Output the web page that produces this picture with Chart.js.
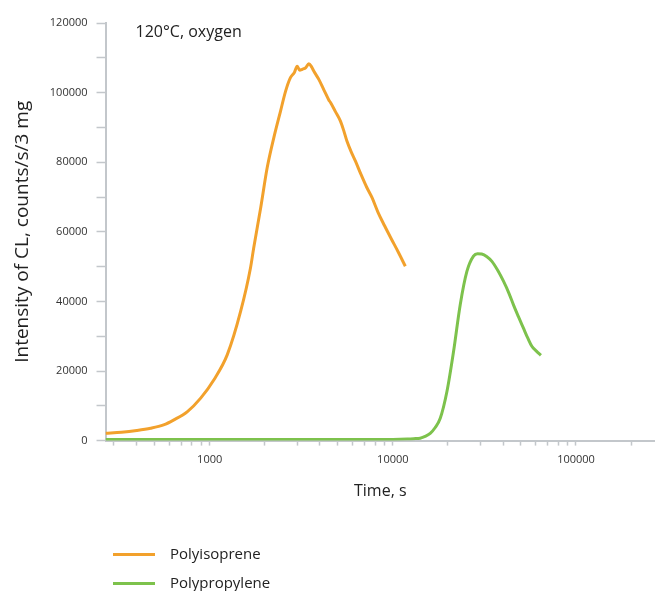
<!DOCTYPE html>
<html>
<head>
<meta charset="utf-8">
<script src="https://cdn.jsdelivr.net/npm/chart.js@4"></script>
<style>
  html, body { margin: 0; padding: 0; background: #fff; }
  #wrap { position: relative; width: 655px; height: 591px; }
  #legend { position: absolute; left: 113px; top: 539px; font-family: "Open Sans", sans-serif; font-size: 15px; color: #222; }
  #legend div { height: 29px; line-height: 29px; white-space: nowrap; }
  #legend span { display: inline-block; width: 42px; height: 3px; vertical-align: middle; margin-right: 15px; }
</style>
</head>
<body>
<div id="wrap">
  <canvas id="chart"></canvas>
  <div id="legend"></div>
</div>
<script>
// Polyisoprene, 120 C oxygen (time in s, CL intensity)
const isoTime = [270, 330, 400, 476, 560, 638, 756, 893, 1055, 1248, 1475, 1670, 1738, 1900, 2060, 2250, 2437, 2600, 2760, 2900, 3006, 3100, 3200, 3350, 3477, 3600, 3700, 3943, 4200, 4470, 4560, 4850, 5175, 5400, 5620, 5900, 6250, 6700, 7200, 7700, 8300, 9000, 9800, 10700, 11700];
const isoValues = [2100, 2400, 2900, 3540, 4500, 5950, 8350, 12200, 17500, 24700, 37100, 49600, 55300, 67000, 78400, 87500, 94700, 100500, 104300, 105800, 107600, 106400, 106700, 107200, 108300, 107400, 106200, 103800, 100800, 97900, 97200, 94600, 91800, 89000, 86000, 83200, 80300, 76500, 72800, 69800, 65600, 61800, 58000, 54200, 50100];

// Polypropylene
const ppTime = [270, 500, 1000, 2000, 5000, 10000, 12000, 13000, 14100, 15000, 16000, 17000, 18150, 19740, 21450, 23320, 25370, 27560, 29000, 30560, 32500, 34740, 37500, 40180, 43000, 45560, 48500, 51650, 54500, 57400, 60800, 64300];
const ppValues = [300, 300, 300, 300, 300, 350, 450, 550, 700, 1200, 2100, 3700, 6400, 14100, 25600, 39000, 48600, 53000, 53700, 53600, 52900, 51500, 48800, 45800, 42400, 39000, 35600, 32300, 29500, 27100, 25700, 24500];

const xTickValues = [300, 400, 500, 600, 700, 800, 900, 1000, 2000, 3000, 4000, 5000, 6000, 7000, 8000, 9000, 10000, 20000, 30000, 40000, 50000, 60000, 70000, 80000, 90000, 100000, 200000];
const xTickLabels = [1000, 10000, 100000];
const yTickLabels = [0, 20000, 40000, 60000, 80000, 100000, 120000];

const seriesNames = ['Polyisoprene', 'Polypropylene'];
const seriesColors = ['#F2A12C', '#7DC24C'];

const axisGrey = '#c3c7cb';
const fontFamily = '"Open Sans", sans-serif';

const noteText = {
  id: 'noteText',
  afterDraw(chart) {
    const ctx = chart.ctx;
    ctx.save();
    ctx.font = '16px ' + fontFamily;
    ctx.fillStyle = '#222';
    ctx.textBaseline = 'middle';
    ctx.fillText('120°C, oxygen', chart.chartArea.left + 30, 32);
    ctx.restore();
  }
};

const ctx = document.getElementById('chart').getContext('2d');
const chart = new Chart(ctx, {
  type: 'line',
  data: {
    datasets: [{
      label: seriesNames[0],
      data: isoTime.map((t, i) => ({ x: t, y: isoValues[i] })),
      borderColor: seriesColors[0],
      backgroundColor: seriesColors[0],
      borderWidth: 3,
      pointRadius: 0,
      cubicInterpolationMode: 'monotone'
    }, {
      label: seriesNames[1],
      data: ppTime.map((t, i) => ({ x: t, y: ppValues[i] })),
      borderColor: seriesColors[1],
      backgroundColor: seriesColors[1],
      borderWidth: 3,
      pointRadius: 0,
      cubicInterpolationMode: 'monotone'
    }]
  },
  options: {
    responsive: true,
    maintainAspectRatio: false,
    animation: false,
    layout: { padding: { top: 23, left: 7, right: 0, bottom: 86 } },
    plugins: {
      legend: { display: false },
      tooltip: { enabled: false }
    },
    scales: {
      x: {
        type: 'logarithmic',
        min: 270,
        max: 270000,
        afterBuildTicks: (scale) => {
          scale.ticks = xTickValues.map(v => ({ value: v }));
        },
        ticks: {
          autoSkip: false,
          maxRotation: 0,
          padding: 8,
          color: '#333',
          font: { family: fontFamily, size: 11 },
          callback: (v) => xTickLabels.includes(v) ? String(v) : ''
        },
        grid: { drawOnChartArea: false, drawTicks: true, tickLength: 5, color: axisGrey, tickWidth: 1.5 },
        border: { color: axisGrey, width: 2 },
        title: { display: true, text: 'Time, s', color: '#222', font: { family: fontFamily, size: 16 }, padding: { top: 7 } }
      },
      y: {
        type: 'linear',
        min: 0,
        max: 120000,
        ticks: {
          stepSize: 10000,
          autoSkip: false,
          padding: 9,
          color: '#333',
          font: { family: fontFamily, size: 11 },
          callback: (v) => yTickLabels.includes(v) ? String(v) : ''
        },
        grid: { drawOnChartArea: false, drawTicks: true, tickLength: 9, color: axisGrey, tickWidth: 1.5 },
        border: { color: axisGrey, width: 2 },
        title: { display: true, text: 'Intensity of CL, counts/s/3 mg', color: '#222', font: { family: fontFamily, size: 19 }, padding: { bottom: 7 } }
      }
    }
  },
  plugins: [noteText]
});

// legend below the chart, one item per row
const legendBox = document.getElementById('legend');
chart.data.datasets.forEach(ds => {
  const row = document.createElement('div');
  const swatch = document.createElement('span');
  swatch.style.background = ds.borderColor;
  row.appendChild(swatch);
  row.appendChild(document.createTextNode(ds.label));
  legendBox.appendChild(row);
});
</script>
</body>
</html>
